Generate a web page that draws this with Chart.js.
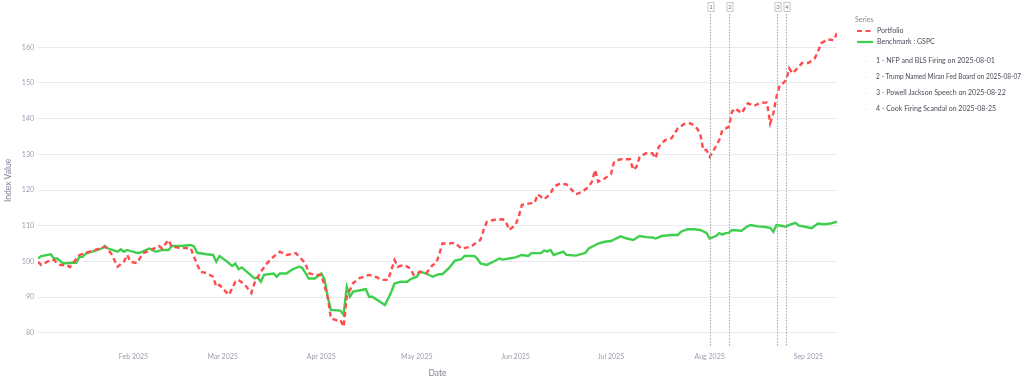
<!DOCTYPE html>
<html><head><meta charset="utf-8">
<script src="https://cdn.jsdelivr.net/npm/chart.js@4.4.1/dist/chart.umd.min.js"></script>
<style>html,body{margin:0;padding:0;background:#fff;overflow:hidden}#wrap{width:1024px;height:378px}</style>
</head><body><div id="wrap"><canvas id="c" width="1024" height="378"></canvas></div>
<script>
const portfolioDates = ['2025-01-02','2025-01-03','2025-01-06','2025-01-07','2025-01-08','2025-01-09','2025-01-11','2025-01-12','2025-01-15','2025-01-17','2025-01-20','2025-01-23','2025-01-25','2025-01-27','2025-01-29','2025-01-30','2025-01-31','2025-02-02','2025-02-04','2025-02-06','2025-02-09','2025-02-10','2025-02-12','2025-02-13','2025-02-16','2025-02-19','2025-02-20','2025-02-22','2025-02-24','2025-02-26','2025-02-27','2025-02-28','2025-03-02','2025-03-03','2025-03-05','2025-03-06','2025-03-08','2025-03-10','2025-03-11','2025-03-13','2025-03-15','2025-03-17','2025-03-19','2025-03-21','2025-03-24','2025-03-27','2025-03-28','2025-03-30','2025-04-01','2025-04-03','2025-04-04','2025-04-06','2025-04-07','2025-04-08','2025-04-09','2025-04-11','2025-04-13','2025-04-16','2025-04-18','2025-04-20','2025-04-22','2025-04-24','2025-04-25','2025-04-27','2025-04-29','2025-04-30','2025-05-02','2025-05-04','2025-05-06','2025-05-07','2025-05-08','2025-05-09','2025-05-11','2025-05-13','2025-05-15','2025-05-18','2025-05-20','2025-05-21','2025-05-22','2025-05-23','2025-05-25','2025-05-28','2025-05-29','2025-05-30','2025-06-01','2025-06-02','2025-06-03','2025-06-05','2025-06-07','2025-06-08','2025-06-10','2025-06-12','2025-06-13','2025-06-15','2025-06-17','2025-06-20','2025-06-22','2025-06-24','2025-06-25','2025-06-26','2025-06-27','2025-06-29','2025-07-01','2025-07-02','2025-07-04','2025-07-07','2025-07-08','2025-07-09','2025-07-10','2025-07-12','2025-07-14','2025-07-15','2025-07-16','2025-07-18','2025-07-20','2025-07-21','2025-07-22','2025-07-24','2025-07-26','2025-07-28','2025-07-29','2025-07-30','2025-07-31','2025-08-01','2025-08-02','2025-08-04','2025-08-05','2025-08-07','2025-08-08','2025-08-09','2025-08-11','2025-08-13','2025-08-15','2025-08-17','2025-08-19','2025-08-20','2025-08-21','2025-08-22','2025-08-23','2025-08-24','2025-08-25','2025-08-26','2025-08-27','2025-08-29','2025-08-30','2025-09-01','2025-09-03','2025-09-04','2025-09-05','2025-09-07','2025-09-09','2025-09-10'];
const portfolioValues = [99.9,99.0,100.4,100.4,99.5,99.0,99.0,98.4,101.8,102.4,103.2,104.1,102.2,98.5,99.9,101.8,99.9,99.5,102.3,103.0,104.3,103.6,106.0,104.1,103.7,103.7,101.3,97.1,96.7,95.7,92.9,93.4,91.5,90.6,94.3,94.8,93.4,91.1,93.9,97.1,99.5,101.3,102.7,101.8,102.3,99.5,96.7,96.2,96.2,90.1,84.1,83.4,83.6,81.7,90.1,93.9,95.3,96.2,95.7,94.8,94.8,100.4,98.5,99.0,98.0,96.2,97.1,96.7,99.0,99.4,101.8,105.0,105.0,105.2,103.6,104.1,105.5,106.0,108.8,111.1,111.6,111.8,111.1,108.8,110.2,112.5,115.8,116.2,116.4,118.8,117.4,119.0,120.9,121.8,121.6,118.8,119.5,120.9,122.3,125.6,122.3,123.2,124.5,128.0,128.6,128.6,125.6,126.5,129.3,130.3,130.3,128.9,132.1,134.0,134.5,135.9,137.3,138.5,138.7,137.3,135.9,131.2,131.2,129.3,130.7,134.0,136.8,137.7,141.9,142.9,141.5,144.3,143.6,144.5,144.5,138.7,141.5,146.1,149.4,149.9,150.8,154.1,152.7,154.5,155.6,155.6,156.9,158.7,161.1,162.2,162.0,164.0];
const benchmarkDates = ['2025-01-02','2025-01-03','2025-01-06','2025-01-07','2025-01-08','2025-01-10','2025-01-13','2025-01-14','2025-01-15','2025-01-16','2025-01-17','2025-01-20','2025-01-22','2025-01-23','2025-01-24','2025-01-27','2025-01-28','2025-01-29','2025-01-30','2025-02-02','2025-02-03','2025-02-05','2025-02-06','2025-02-08','2025-02-10','2025-02-12','2025-02-13','2025-02-16','2025-02-19','2025-02-20','2025-02-21','2025-02-24','2025-02-26','2025-02-27','2025-02-28','2025-03-02','2025-03-04','2025-03-05','2025-03-06','2025-03-07','2025-03-09','2025-03-11','2025-03-12','2025-03-13','2025-03-14','2025-03-17','2025-03-18','2025-03-19','2025-03-21','2025-03-23','2025-03-25','2025-03-26','2025-03-27','2025-03-28','2025-03-30','2025-04-01','2025-04-02','2025-04-03','2025-04-04','2025-04-07','2025-04-08','2025-04-09','2025-04-10','2025-04-11','2025-04-15','2025-04-16','2025-04-17','2025-04-21','2025-04-22','2025-04-23','2025-04-24','2025-04-26','2025-04-28','2025-04-29','2025-05-01','2025-05-02','2025-05-04','2025-05-06','2025-05-08','2025-05-09','2025-05-11','2025-05-13','2025-05-15','2025-05-16','2025-05-19','2025-05-20','2025-05-21','2025-05-23','2025-05-25','2025-05-27','2025-05-28','2025-05-30','2025-06-01','2025-06-03','2025-06-05','2025-06-06','2025-06-09','2025-06-10','2025-06-11','2025-06-12','2025-06-13','2025-06-16','2025-06-17','2025-06-20','2025-06-23','2025-06-24','2025-06-27','2025-06-29','2025-07-01','2025-07-04','2025-07-06','2025-07-08','2025-07-10','2025-07-12','2025-07-14','2025-07-15','2025-07-17','2025-07-20','2025-07-22','2025-07-23','2025-07-25','2025-07-27','2025-07-29','2025-07-31','2025-08-01','2025-08-03','2025-08-04','2025-08-05','2025-08-06','2025-08-07','2025-08-08','2025-08-11','2025-08-13','2025-08-14','2025-08-16','2025-08-18','2025-08-20','2025-08-21','2025-08-22','2025-08-25','2025-08-26','2025-08-28','2025-08-29','2025-08-31','2025-09-02','2025-09-04','2025-09-06','2025-09-08','2025-09-10'];
const benchmarkValues = [100.8,101.5,102.0,100.8,100.8,99.4,99.6,99.6,101.3,101.3,102.2,103.0,103.6,104.3,103.6,102.7,103.4,102.7,103.2,102.4,102.4,103.2,103.6,102.7,103.2,103.2,104.3,104.3,104.6,104.2,102.4,102.0,101.8,99.9,101.5,100.2,98.7,99.4,97.8,98.3,96.8,95.2,95.5,94.3,96.2,96.6,95.7,96.6,96.6,97.8,98.5,98.2,96.8,95.2,95.2,96.6,95.0,90.1,86.4,86.2,85.0,92.9,90.1,91.5,92.2,90.1,90.1,87.8,89.6,91.5,93.8,94.3,94.3,95.0,95.7,97.1,96.6,95.7,96.4,96.4,98.0,100.2,100.6,101.5,101.5,100.8,99.4,99.0,99.9,100.8,100.5,100.8,101.1,101.8,101.5,102.3,102.3,103.0,102.8,103.2,101.8,102.7,101.8,101.6,102.4,103.6,105.0,105.5,105.7,107.0,106.4,106.0,107.1,106.8,106.7,106.4,107.1,107.4,107.4,108.3,109.0,109.0,108.8,108.0,106.4,107.1,107.9,107.5,107.9,108.0,108.8,108.6,109.9,110.2,109.8,109.7,109.4,108.3,110.2,109.7,110.2,110.8,110.0,109.7,109.3,110.6,110.4,110.6,111.1];
const eventDates = ['2025-08-01','2025-08-07','2025-08-22','2025-08-25'];
const eventNames = ['NFP and BLS Firing','Trump Named Miran Fed Board','Powell Jackson Speech','Cook Firing Scandal'];
const monthTickDates = ['2025-02-01','2025-03-01','2025-04-01','2025-05-01','2025-06-01','2025-07-01','2025-08-01','2025-09-01'];
const monthTickLabels = ['Feb 2025','Mar 2025','Apr 2025','May 2025','Jun 2025','Jul 2025','Aug 2025','Sep 2025'];
const yTickValues = [80,90,100,110,120,130,140,150,160];
const seriesNames = ['Portfolio','Benchmark : GSPC'];

const FONT = 'Lato, "Noto Sans", sans-serif';
const dayNum = s => { const [y,m,d] = s.split('-').map(Number); return (Date.UTC(y,m-1,d) - Date.UTC(2025,0,1)) / 86400000; };
const toPts = (ds, vs) => ds.map((d,i) => ({x: dayNum(d), y: vs[i]}));
const allDays = portfolioDates.concat(benchmarkDates).map(dayNum);
const xMin = Math.min(...allDays), xMax = Math.max(...allDays);
const tickDayToLabel = {};
monthTickDates.forEach((d,i) => tickDayToLabel[dayNum(d)] = monthTickLabels[i]);

const eventsPlugin = {
  id: 'events',
  afterDatasetsDraw(chart) {
    const {ctx, chartArea, scales} = chart;
    ctx.save();
    eventDates.forEach((d, i) => {
      const x = Math.round(scales.x.getPixelForValue(dayNum(d))) + 0.5;
      ctx.strokeStyle = '#a6a6a6';
      ctx.lineWidth = 1;
      ctx.setLineDash([1.5, 1.5]);
      ctx.beginPath(); ctx.moveTo(x, chartArea.top); ctx.lineTo(x, chartArea.bottom); ctx.stroke();
      ctx.setLineDash([]);
      ctx.strokeStyle = '#c8c8c8';
      ctx.fillStyle = '#ffffff';
      ctx.fillRect(x - 2.5, 2.5, 6, 9);
      ctx.strokeRect(x - 2.5, 2.5, 6, 9);
      ctx.fillStyle = '#7a7f90';
      ctx.font = '6px ' + FONT;
      ctx.textAlign = 'center'; ctx.textBaseline = 'middle';
      ctx.fillText(String(i + 1), x + 0.5, 7.5);
    });
    ctx.restore();
  }
};

const legendPlugin = {
  id: 'customLegend',
  afterDraw(chart) {
    const ctx = chart.ctx;
    ctx.save();
    ctx.textBaseline = 'middle'; ctx.textAlign = 'left';
    ctx.fillStyle = '#8a8d99';
    ctx.font = '7px ' + FONT;
    ctx.fillText('Series', 855, 20);
    const ds = chart.data.datasets;
    const rows = [31, 42];
    ds.forEach((d, i) => {
      ctx.strokeStyle = d.borderColor;
      ctx.lineWidth = 2.2;
      ctx.setLineDash(d.borderDash || []);
      ctx.beginPath(); ctx.moveTo(857, rows[i]); ctx.lineTo(873, rows[i]); ctx.stroke();
      ctx.setLineDash([]);
      ctx.fillStyle = '#4a4c58';
      ctx.font = '7px ' + FONT;
      ctx.fillText(d.label, 877, rows[i]);
    });
    eventNames.forEach((n, i) => {
      const y = 61 + i * 16;
      ctx.fillStyle = '#ececec';
      ctx.beginPath(); ctx.arc(866, y, 1, 0, Math.PI * 2); ctx.fill();
      ctx.fillStyle = '#4a4c58';
      ctx.font = '7px ' + FONT;
      ctx.fillText((i + 1) + ' - ' + n + ' on ' + eventDates[i], 876, y, 145);
    });
    ctx.restore();
  }
};

new Chart(document.getElementById('c'), {
  type: 'line',
  data: {
    datasets: [
      { label: seriesNames[0], data: toPts(portfolioDates, portfolioValues), borderColor: '#ff4b4b', borderWidth: 2.4, borderDash: [5, 3.5], pointRadius: 0, tension: 0, fill: false },
      { label: seriesNames[1], data: toPts(benchmarkDates, benchmarkValues), borderColor: '#3ecf4c', borderWidth: 2.4, pointRadius: 0, tension: 0, fill: false }
    ]
  },
  options: {
    responsive: false, animation: false, devicePixelRatio: 1,
    layout: { padding: { left: 0, right: 187, top: 14, bottom: 0 } },
    plugins: { legend: { display: false }, tooltip: { enabled: false } },
    scales: {
      x: {
        type: 'linear', min: xMin, max: xMax,
        afterFit: s => { s.height = 31; },
        afterBuildTicks: s => { s.ticks = monthTickDates.map(d => ({ value: dayNum(d) })); },
        grid: { display: false, drawTicks: false },
        border: { display: false },
        ticks: { padding: 6, color: '#9a9eae', font: { size: 7, family: FONT }, maxRotation: 0, autoSkip: false, callback: v => tickDayToLabel[v] || '' },
        title: { display: true, text: 'Date', color: '#808495', font: { size: 8.5, family: FONT }, padding: 0 }
      },
      y: {
        min: 76, max: 169.33,
        afterFit: s => { s.width = 38; },
        afterBuildTicks: s => { s.ticks = yTickValues.map(v => ({ value: v })); },
        grid: { color: '#e8eaef', lineWidth: 1, drawTicks: false },
        border: { display: false },
        ticks: { padding: 4, color: '#9a9eae', font: { size: 7, family: FONT } },
        title: { display: true, text: 'Index Value', color: '#808495', font: { size: 8.5, family: FONT }, padding: { top: 3, bottom: 0 } }
      }
    }
  },
  plugins: [eventsPlugin, legendPlugin]
});
</script></body></html>
